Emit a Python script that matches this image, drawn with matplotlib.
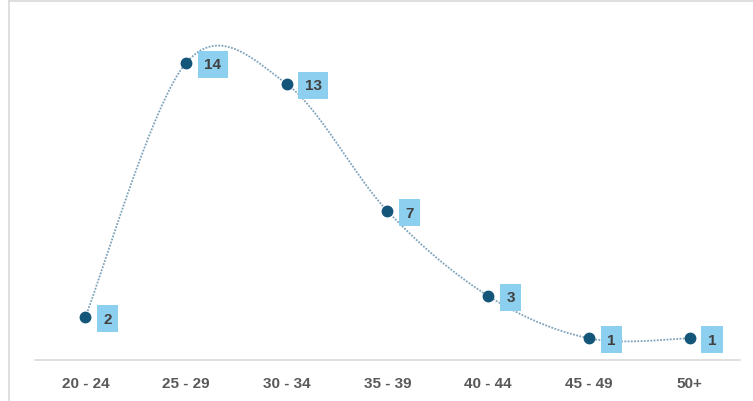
import numpy as np
import matplotlib.pyplot as plt
from matplotlib.lines import Line2D

plt.rcParams['font.family'] = ['Liberation Sans', 'DejaVu Sans']

ages = ['20 - 24', '25 - 29', '30 - 34', '35 - 39', '40 - 44', '45 - 49', '50+']
counts = [2, 14, 13, 7, 3, 1, 1]

x = np.arange(len(ages), dtype=float)
y = np.array(counts, dtype=float)

# smoothed line like a spreadsheet's "smoothed line" (Catmull-Rom / Bezier)
def smooth(xs, ys, n=40):
    px = np.concatenate([[xs[0]], xs, [xs[-1]]])
    py = np.concatenate([[ys[0]], ys, [ys[-1]]])
    ox, oy = [], []
    for i in range(1, len(px) - 2):
        p0, p1, p2, p3 = [np.array([px[j], py[j]]) for j in (i - 1, i, i + 1, i + 2)]
        c1 = p1 + (p2 - p0) / 6
        c2 = p2 - (p3 - p1) / 6
        t = np.linspace(0, 1, n)[:, None]
        b = (1 - t) ** 3 * p1 + 3 * (1 - t) ** 2 * t * c1 + 3 * (1 - t) * t ** 2 * c2 + t ** 3 * p2
        ox.extend(b[:, 0]); oy.extend(b[:, 1])
    return np.array(ox), np.array(oy)

sx, sy = smooth(x, y)

fig = plt.figure(figsize=(7.53, 4.02), dpi=100)
ax = fig.add_axes([35 / 753, 41.5 / 402, 705 / 753, 339 / 402])

ax.plot(sx, sy, color='#7FA3BC', lw=1.3, ls=(0, (1, 0.8)), zorder=2)
ax.plot(x, y, 'o', color='#14557A', ms=7.5, zorder=3)

for xi, yi in zip(x, y):
    ax.annotate(str(int(yi)), (xi, yi), xytext=(13, -1), textcoords='offset points',
                ha='left', va='center', fontsize=11, fontweight='bold', color='#404040',
                bbox=dict(boxstyle='square,pad=0.42', fc='#8DCFEF', ec='none'), zorder=4)

ax.set_xlim(-0.5, len(ages) - 0.5)
ax.set_ylim(0, 16)
ax.set_xticks(x)
ax.set_xticklabels(ages, fontsize=11, fontweight='bold', color='#595959')
ax.tick_params(axis='x', length=0, pad=12)
ax.set_yticks([])
for s in ['top', 'right', 'left']:
    ax.spines[s].set_visible(False)
ax.spines['bottom'].set_color('#D9D9D9')
ax.spines['bottom'].set_linewidth(1.2)

# outer chart border (left and top visible)
fig.add_artist(Line2D([9 / 753, 9 / 753], [0, 1 - 2 / 402], color='#D9D9D9', lw=1.2))
fig.add_artist(Line2D([9 / 753, 1], [1 - 2 / 402, 1 - 2 / 402], color='#D9D9D9', lw=1.2))

fig.savefig('out.png', dpi=100)
